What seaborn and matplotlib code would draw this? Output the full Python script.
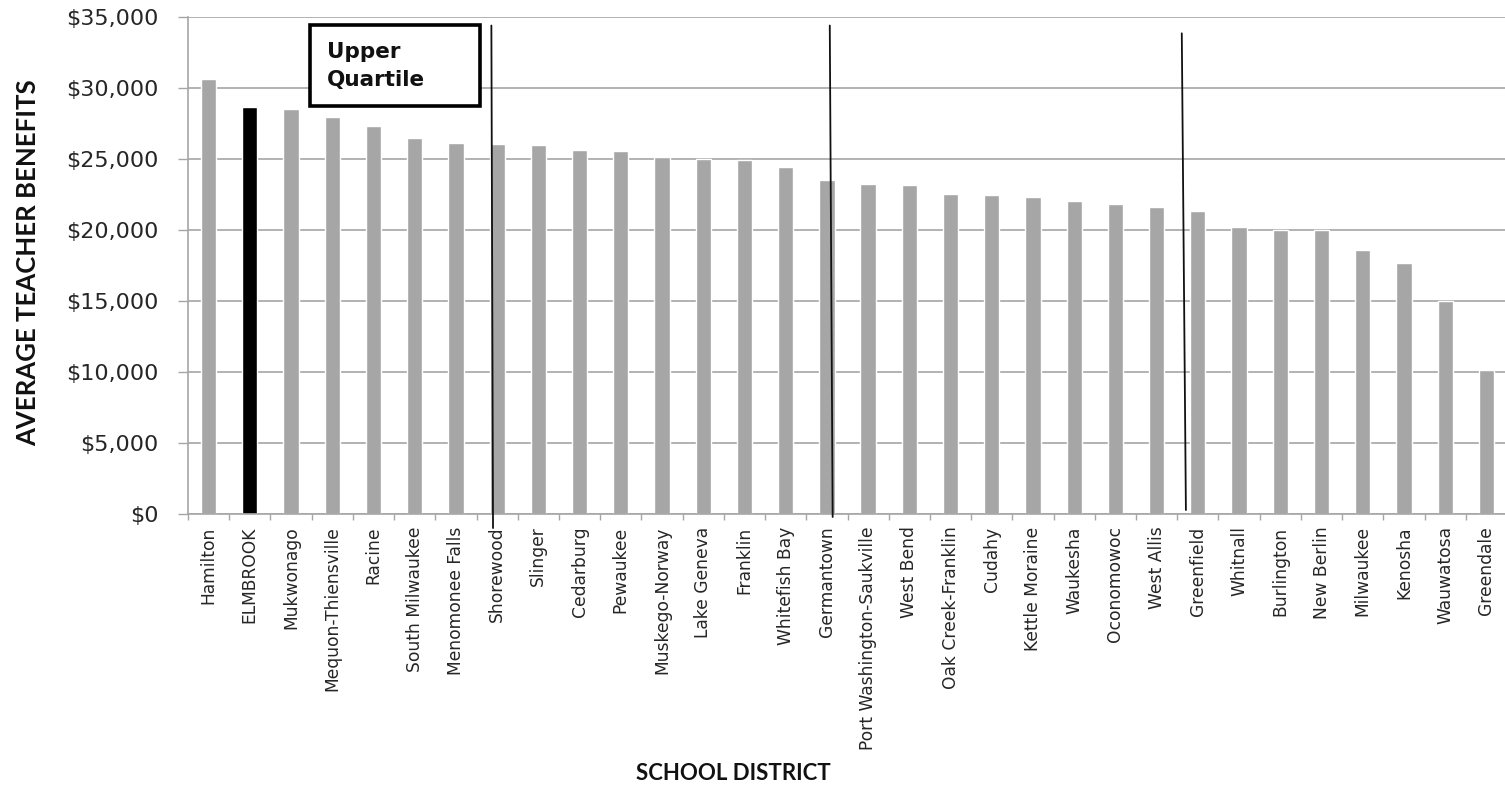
import matplotlib
matplotlib.use("Agg")
import matplotlib.pyplot as plt
from matplotlib.patches import Rectangle
from matplotlib.ticker import FuncFormatter, FixedLocator
import seaborn as sns

districts = ["Hamilton", "ELMBROOK", "Mukwonago", "Mequon-Thiensville", "Racine",
             "South Milwaukee", "Menomonee Falls", "Shorewood", "Slinger", "Cedarburg",
             "Pewaukee", "Muskego-Norway", "Lake Geneva", "Franklin", "Whitefish Bay",
             "Germantown", "Port Washington-Saukville", "West Bend", "Oak Creek-Franklin",
             "Cudahy", "Kettle Moraine", "Waukesha", "Oconomowoc", "West Allis",
             "Greenfield", "Whitnall", "Burlington", "New Berlin", "Milwaukee",
             "Kenosha", "Wauwatosa", "Greendale"]
benefits = [30600, 28650, 28540, 27950, 27340, 26460, 26130, 26030, 26000, 25640,
            25540, 25140, 24980, 24960, 24450, 23540, 23230, 23160, 22550, 22450,
            22330, 22030, 21860, 21630, 21340, 20230, 19990, 19990, 18560, 17680,
            14980, 10140]
highlight = "ELMBROOK"
y_ticks = [0, 5000, 10000, 15000, 20000, 25000, 30000, 35000]
box_text = "Upper\nQuartile"
x_label = "SCHOOL DISTRICT"
y_label = "AVERAGE TEACHER BENEFITS"

GRAY = "#a6a6a6"
colors = ["#000000" if d == highlight else GRAY for d in districts]

sns.set_style("white")
plt.rcParams["font.family"] = ["DejaVu Sans"]

W, H = 1505, 785
fig = plt.figure(figsize=(W / 100, H / 100), dpi=100)
ax = fig.add_axes([188 / W, 1 - 514 / H, (1507 - 188) / W, (514 - 17) / H])

sns.barplot(x=districts, y=benefits, hue=districts, palette=colors, legend=False,
            width=0.37, dodge=False, saturation=1, ax=ax)

ax.set_xlim(-0.5, len(districts) - 0.5)
ax.set_ylim(0, 35000)
ax.set_yticks(y_ticks)
ax.yaxis.set_major_formatter(FuncFormatter(lambda v, p: f"${v:,.0f}"))
ax.grid(axis="y", color=GRAY, linewidth=1.2)
ax.set_axisbelow(True)
for s in ["top", "right"]:
    ax.spines[s].set_visible(False)
for s in ["left", "bottom"]:
    ax.spines[s].set_color(GRAY)
    ax.spines[s].set_linewidth(1.2)

ax.tick_params(axis="y", direction="out", length=7, width=1, color=GRAY,
               labelsize=16, labelcolor="#262626", pad=14, left=True)
ax.set_xticks(range(len(districts)))
ax.set_xticklabels(districts, rotation=90, fontsize=12.3, color="#262626")
ax.tick_params(axis="x", which="major", length=0, pad=9)
ax.xaxis.set_minor_locator(FixedLocator([i - 0.5 for i in range(len(districts) + 1)]))
ax.tick_params(axis="x", which="minor", direction="out", length=4.5, width=1,
               color=GRAY, bottom=True)
ax.set_xlabel("")
ax.set_ylabel("")

# Quartile divider lines
dividers = [((6.86, 34400), (6.90, -990)),
            ((15.07, 34400), (15.14, -210)),
            ((23.61, 33850), (23.71, 280))]
for (x0, y0), (x1, y1) in dividers:
    ax.plot([x0, x1], [y0, y1], color="#111111", linewidth=1.3, clip_on=False, zorder=5)

# Upper Quartile box
fig.add_artist(Rectangle((310 / W, 1 - 106 / H), (480 - 310) / W, (106 - 25) / H,
                         transform=fig.transFigure, fill=True, facecolor="white",
                         edgecolor="black", linewidth=2.6, zorder=6))
fig.text(327 / W, 1 - 66 / H, box_text, ha="left", va="center", fontsize=15.5,
         fontweight="bold", color="#111111", linespacing=1.5, zorder=7)

fig.text(28 / W, 1 - 263 / H, y_label, rotation=90, ha="center", va="center",
         fontsize=18.5, fontweight="bold", family=["Lato", "DejaVu Sans"], color="#111111")
fig.text(733 / W, 1 - 774 / H, x_label, ha="center", va="center",
         fontsize=16, fontweight="bold", family=["Lato", "DejaVu Sans"], color="#111111")

fig.savefig("out.png", dpi=100)
